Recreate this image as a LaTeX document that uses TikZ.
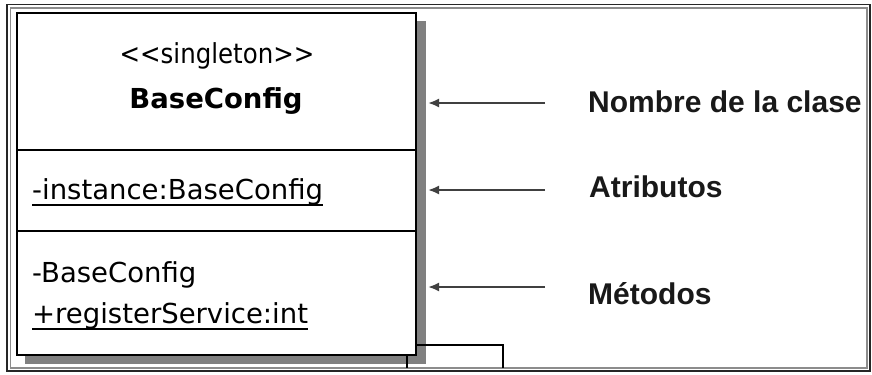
\documentclass[tikz,border=0pt]{standalone}
\usepackage{fontspec}
\usepackage{graphicx}
\usetikzlibrary{arrows.meta}
\newfontfamily\umlfont{DejaVu Sans}
\newfontfamily\labelfont{Liberation Sans}
\begin{document}
\begin{tikzpicture}[x=1bp,y=-1bp,
  umltext/.style={inner sep=0pt, text=black, font=\umlfont\fontsize{27.5bp}{33bp}\selectfont},
  umlbold/.style={umltext, font=\umlfont\bfseries\fontsize{27.5bp}{33bp}\selectfont},
  sidelabel/.style={inner sep=0pt, anchor=base west, text=black!90, font=\labelfont\bfseries\fontsize{30bp}{36bp}\selectfont},
  compart/.style={draw=black, line width=2bp, fill=white, minimum width=399bp, anchor=north west, inner sep=0pt, outer sep=0pt},
  pointer/.style={draw=black!75, line width=2bp, -{Latex[length=11bp,width=9bp]}},
  uline/.style={draw=black, line width=1.6bp},
  stub/.style={draw=black, line width=1.6bp}
]
% canvas
\fill[white] (0,0) rectangle (872,374);
\useasboundingbox (0,0) rectangle (872,374);
% outer frame
\draw[black!85, line width=1.3bp] (7,4.5) rectangle (870,371);
\draw[black!45, line width=1.8bp] (10.5,8) rectangle (867,368);
% shadow
\node[fill=black!50, minimum width=401bp, minimum height=343bp, anchor=north west, inner sep=0pt, outer sep=0pt] (shadow) at (25,21) {};
% class compartments
\node[compart, minimum height=137bp] (namepart) at (17,13) {};
\node[compart, minimum height=81bp] (attrpart) at (17,150) {};
\node[compart, minimum height=124bp] (methpart) at (17,231) {};
% stubs at the bottom
\coordinate (stubA) at (503,368);
\coordinate (stubB) at (407,368);
\draw[stub] (methpart.south east) ++(0,-10) -| (stubA);
\draw[stub] (methpart.south -| stubB) -- (stubB);
% texts in the class
\node[umltext, anchor=base] (stereo) at (217,63) {\scalebox{0.89}[1]{<\kern0pt<singleton>\kern0pt>}};
\node[umlbold, anchor=base] (cname) at (216,108) {BaseConfig};
\node[umltext, anchor=base west] (attr) at (32,199) {-instance:BaseConfig};
\node[umltext, anchor=base west] (ctor) at (32,282) {-BaseConfig};
\node[umltext, anchor=base west] (meth) at (32,323) {+registerService:int};
\draw[uline] ([yshift=-6bp]attr.base west) -- ([yshift=-6bp]attr.base east);
\draw[uline] ([yshift=-6bp]meth.base west) -- ([yshift=-6bp]meth.base east);
% side labels
\node[sidelabel] (lname) at (588,112) {Nombre de la clase};
\node[sidelabel] (lattr) at (589,197) {Atributos};
\node[sidelabel] (lmeth) at (588,304) {Métodos};
% pointers
\coordinate (p1s) at (545,103);
\coordinate (p2s) at (545,190);
\coordinate (p3s) at (545,287);
\draw[pointer] (p1s) -- ([xshift=2bp]shadow.east |- p1s);
\draw[pointer] (p2s) -- ([xshift=2bp]shadow.east |- p2s);
\draw[pointer] (p3s) -- ([xshift=2bp]shadow.east |- p3s);
\end{tikzpicture}
\end{document}
